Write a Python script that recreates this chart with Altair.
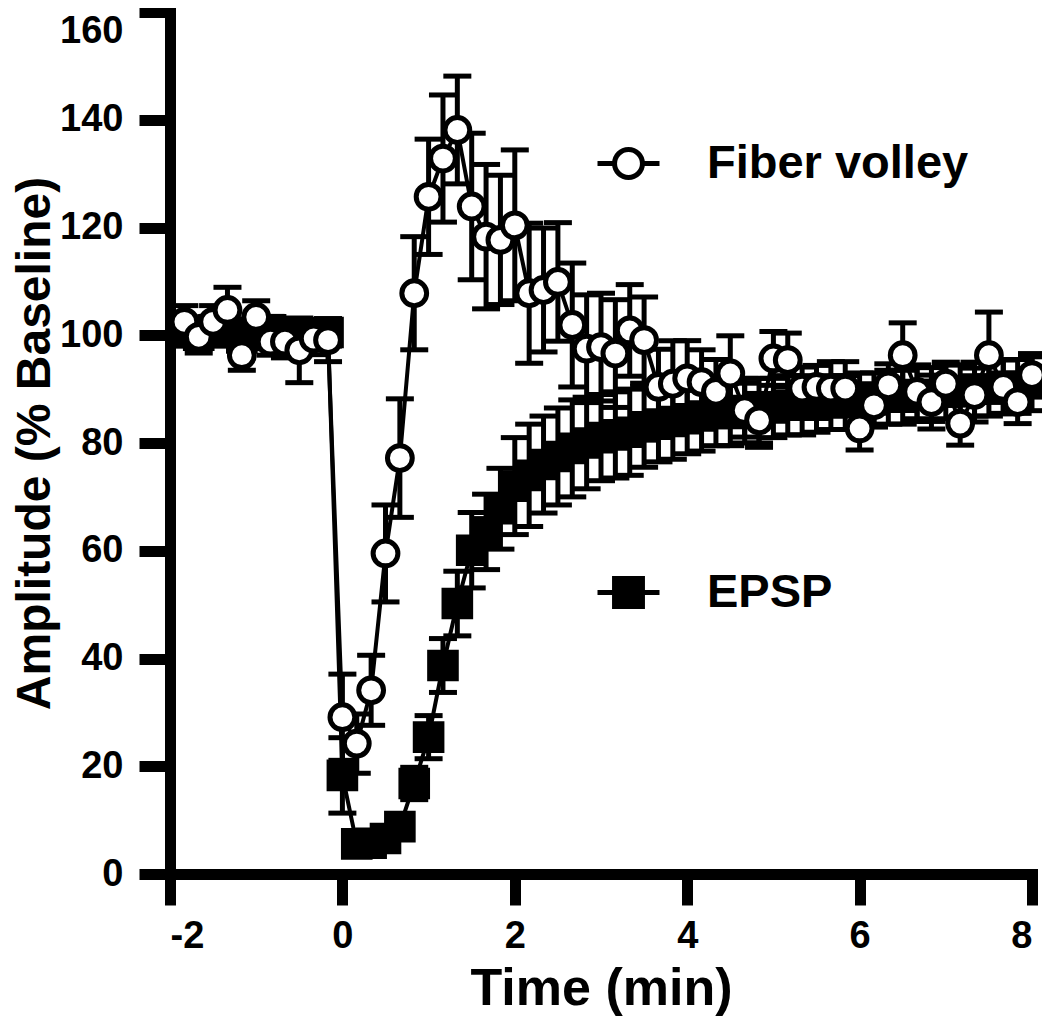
import altair as alt
import pandas as pd

# sample index (10-s bins, 1/6 min)
k_index = list(range(-11, 49))
time_min = [k / 6 for k in k_index]

fv_mean = [102.5, 99.7, 102.5, 104.7, 96.3, 103.4, 98.8, 98.8, 97.2, 99.4, 99.1,
           29.1, 24.2, 34.1, 59.5, 77.2, 107.8, 125.7, 132.8, 138.1, 123.9,
           118.3, 117.7, 120.4, 107.8, 108.4, 109.9, 101.9, 97.5, 97.8, 96.6,
           100.9, 99.1, 90.4, 91.0, 92.0, 91.3, 89.5, 92.9, 86.1, 84.2,
           95.7, 95.4, 90.1, 90.4, 90.1, 90.1, 82.7, 87.0, 90.7, 96.3,
           89.5, 87.6, 91.0, 83.6, 88.9, 96.3, 90.4, 87.6, 92.6]
fv_err = [3, 3, 3, 4.2, 2.8, 3, 2.5, 3, 6, 3, 4,
          8, 5.5, 6.5, 9, 11, 10.5, 10.7, 11.8, 10, 13.6,
          13.4, 12, 14, 13, 11.5, 11, 11.5, 10, 10, 10,
          8.5, 8, 7, 8, 7, 6, 6, 7, 5, 5,
          5, 5, 4, 4, 5, 5, 4, 4, 4, 6,
          5, 5, 4, 4, 5, 8, 5, 4, 4]

epsp_mean = [100.5, 100, 101, 100.5, 99.5, 100, 101, 100, 99.5, 100, 100.5,
             18.3, 5.6, 5.7, 6.6, 8.8, 16.8, 25.4, 38.7, 50.2, 60.1,
             63.5, 67.8, 72.0, 74.0, 76.0, 77.5, 79.0, 80.0, 81.0, 81.5,
             82.0, 83.0, 83.5, 84.0, 84.5, 85.0, 85.5, 85.5, 86.0, 86.0,
             86.5, 87.0, 87.0, 87.0, 87.5, 87.5, 88.0, 88.0, 88.5, 88.5,
             89.0, 89.0, 89.5, 89.5, 90.0, 90.0, 90.5, 90.5, 91.0]
epsp_err = [2.5, 2.5, 2.5, 2.5, 2.5, 2.5, 2.5, 2.5, 2.5, 2.5, 2.5,
            7, 1.5, 1.5, 1.5, 2, 3, 4, 5, 6, 7,
            7, 7.5, 9, 9.5, 9, 9, 9, 8.5, 8, 8,
            8, 7.5, 7, 7, 6.5, 6.5, 6, 6, 6, 6,
            5.5, 5.5, 5.5, 5, 5, 5, 5, 5, 5, 5,
            5, 5, 5, 5, 5, 5, 5, 5, 5]

series_names = ["Fiber volley", "EPSP"]
x_ticks = [-2, 0, 2, 4, 6, 8]
y_ticks = [0, 20, 40, 60, 80, 100, 120, 140, 160]

assert len(fv_mean) == len(fv_err) == len(epsp_mean) == len(epsp_err) == len(time_min)

rows = []
for name, means, errs in [("Fiber volley", fv_mean, fv_err), ("EPSP", epsp_mean, epsp_err)]:
    for t, m, e in zip(time_min, means, errs):
        rows.append({"series": name, "time": t, "mean": m, "lo": m - e, "hi": m + e})
df = pd.DataFrame(rows)

FONT = "Liberation Sans"
x_scale = alt.Scale(domain=[-2, 8], nice=False, zero=False)
y_scale = alt.Scale(domain=[0, 160], nice=False)
x_axis = alt.Axis(values=x_ticks, labelPadding=12, titlePadding=8,
                  labelExpr="'' + datum.value")
y_axis = alt.Axis(values=y_ticks, labelPadding=16, titlePadding=0, titleFontSize=48,
                  labelOffset={"condition": {"test": "datum.value == 160", "value": 19}, "value": 0})
X_T = "Time (min)"
Y_T = "Amplitude (% Baseline)"


def X(f="time"):
    return alt.X(f"{f}:Q", scale=x_scale, axis=x_axis, title=X_T)


def Y(f):
    return alt.Y(f"{f}:Q", scale=y_scale, axis=y_axis, title=Y_T)


base = alt.Chart(df)


def series_layers(name, point_mark):
    d = base.transform_filter(alt.datum.series == name)
    stems = d.mark_rule(color="black", strokeWidth=5).encode(x=X(), y=Y("lo"), y2="hi:Q")
    cap_hi = d.mark_tick(orient="horizontal", color="black", size=28, thickness=5, opacity=1).encode(x=X(), y=Y("hi"))
    cap_lo = d.mark_tick(orient="horizontal", color="black", size=28, thickness=5, opacity=1).encode(x=X(), y=Y("lo"))
    line = d.mark_line(color="black", strokeWidth=4).encode(x=X(), y=Y("mean"))
    pts = d.mark_point(**point_mark).encode(x=X(), y=Y("mean"))
    return [stems, cap_hi, cap_lo, line, pts]


epsp_layers = series_layers("EPSP", dict(shape="square", filled=True, fill="black",
                                         stroke="black", strokeWidth=0, size=1000, opacity=1))
fv_layers = series_layers("Fiber volley", dict(shape="circle", filled=True, fill="white",
                                               stroke="black", strokeWidth=5, size=615, opacity=1))

circle_path = ("M-1,0L-0.45,0M0.45,0L1,0M-0.45,0A0.45,0.45,0,1,1,0.45,0"
               "A0.45,0.45,0,1,1,-0.45,0Z")
square_path = "M-1,0L1,0M-0.45,-0.45L0.45,-0.45L0.45,0.45L-0.45,0.45Z"

legend = alt.Legend(title=None, orient="none", legendX=425, legendY=118, padding=0,
                    symbolSize=3844, symbolStrokeWidth=5, symbolStrokeColor="black",
                    symbolOpacity=1, labelFont=FONT, labelFontSize=47, labelFontWeight="bold",
                    labelColor="black", labelOffset=45, rowPadding=371, labelLimit=600)

legend_layer = base.mark_point(filled=True, strokeWidth=5, opacity=0).encode(
    x=X(), y=Y("mean"),
    shape=alt.Shape("series:N", scale=alt.Scale(domain=series_names, range=[circle_path, square_path]),
                    legend=legend),
    fill=alt.Fill("series:N", scale=alt.Scale(domain=series_names, range=["white", "black"]),
                  legend=legend),
    stroke=alt.Stroke("series:N", scale=alt.Scale(domain=series_names, range=["black", "black"]),
                      legend=legend),
)

chart = alt.layer(*epsp_layers, *fv_layers, legend_layer).properties(
    width=862, height=862,
    padding={"left": 162, "top": 4, "right": 10, "bottom": 150},
    autosize="none",
).configure_view(stroke=None).configure_axis(
    domainWidth=11, domainColor="black", domainCap="square",
    tickWidth=11, tickSize=31, tickColor="black", tickCap="butt",
    labelFont=FONT, labelFontSize=38, labelFontWeight="bold", labelColor="black",
    titleFont=FONT, titleFontSize=52, titleFontWeight="bold", titleColor="black",
    grid=False,
)

chart.save("out.html", embed_options={"renderer": "svg", "actions": False})
